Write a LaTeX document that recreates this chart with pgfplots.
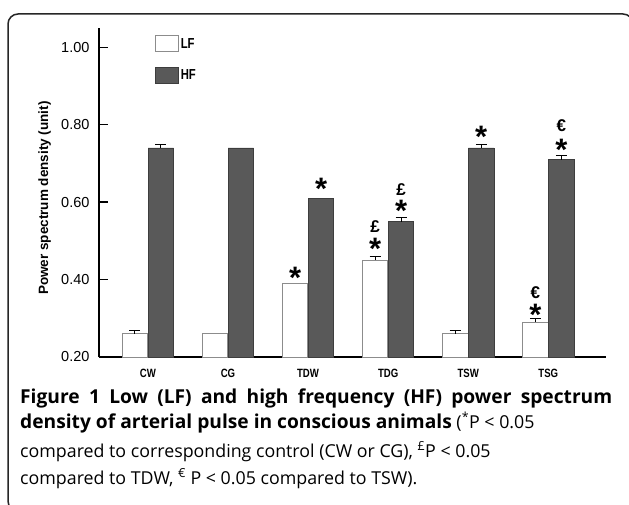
\documentclass[border=0pt]{standalone}
\usepackage{pgfplots}
\pgfplotsset{compat=1.18}
\usepackage{fontspec}
\setmainfont{Open Sans}
\newfontfamily\arial{Liberation Sans}
\definecolor{hfgray}{HTML}{595959}
\definecolor{hfedge}{HTML}{3D3D3D}
\definecolor{lfedge}{HTML}{8C8C8C}
\newcommand{\cat}[1]{\scalebox{0.8}[1]{\arial\bfseries\fontsize{12}{12}\selectfont #1}}
\newcommand{\legtxt}[1]{\scalebox{0.78}[1]{\arial\bfseries\fontsize{14.5}{14}\selectfont #1}}
\newcommand{\sig}{\raisebox{-16.5pt}[4pt][4pt]{*}}
\newcommand{\cur}[1]{\raisebox{-6pt}[5pt][5pt]{#1}}
\pgfplotsset{boxlegend/.style={legend image code/.code={\draw[##1] (0pt,-8pt) rectangle (23pt,8pt);}}}
\begin{document}
\begin{tikzpicture}[x=1pt,y=1pt]
\useasboundingbox (0,0) rectangle (629,504);
\fill[white] (0,0) rectangle (629,504);
\draw[rounded corners=10pt, line width=1.5pt, black!85] (8,-7) rectangle (633,490);
\begin{axis}[
  at={(99pt,147pt)}, anchor=south west,
  scale only axis, width=507pt, height=329pt,
  xmin=-0.61, xmax=5.72, ymin=0.2, ymax=1.05,
  axis x line*=bottom, axis y line*=left,
  axis line style={-, line width=1.4pt, black},
  xtick={0,1,2,3,4,5},
  xticklabels={\cat{CW},\cat{CG},\cat{TDW},\cat{TDG},\cat{TSW},\cat{TSG}},
  xtick style={draw=none},
  xticklabel style={yshift=-9pt},
  ytick={0.2,0.4,0.6,0.8,1.0},
  yticklabel style={/pgf/number format/fixed, /pgf/number format/fixed zerofill, /pgf/number format/precision=2, /pgf/number format/assume math mode=true, font=\arial\fontsize{14.5}{14}\selectfont, xshift=-6pt},
  tick align=inside, major tick length=9pt,
  ytick style={line width=1.4pt, black},
  ylabel={\arial\bfseries\fontsize{13.5}{14}\selectfont Power spectrum density (unit)},
  ylabel style={at={(axis description cs:-0.107,0.483)}, anchor=center, rotate=0},
  legend style={at={(axis description cs:0.110,0.978)}, anchor=north west, draw=none, fill=none,
    inner sep=0pt, row sep=15pt, cells={anchor=west}},
  clip=false,
]
\addplot[ybar, bar width=25.5pt, bar shift=-13pt, fill=white, draw=lfedge, line width=0.8pt, boxlegend]
  coordinates {(0,0.26) (1,0.26) (2,0.39) (3,0.45) (4,0.26) (5,0.29)};
\addlegendentry{\legtxt{LF}}
\addplot[ybar, bar width=25.5pt, bar shift=13pt, fill=hfgray, draw=hfedge, line width=0.8pt, boxlegend]
  coordinates {(0,0.74) (1,0.74) (2,0.61) (3,0.55) (4,0.74) (5,0.71)};
\addlegendentry{\legtxt{HF}}
% error bars (upper only)
\addplot[forget plot, draw=none, no markers,
  error bars/.cd, y dir=plus, y explicit,
  error bar style={draw=black, line width=0.8pt},
  error mark options={rotate=90, mark size=5.5pt, line width=0.8pt, draw=black}]
  coordinates {(-0.1625,0.26) +- (0,0.01) (2.8375,0.45) +- (0,0.01) (3.8375,0.26) +- (0,0.01) (4.8375,0.29) +- (0,0.01)};
\addplot[forget plot, draw=none, no markers,
  error bars/.cd, y dir=plus, y explicit,
  error bar style={draw=black, line width=0.8pt},
  error mark options={rotate=90, mark size=5.5pt, line width=0.8pt, draw=black}]
  coordinates {(0.1625,0.74) +- (0,0.01) (3.1625,0.55) +- (0,0.01) (4.1625,0.74) +- (0,0.01) (5.1625,0.71) +- (0,0.01)};
% significance marks
\tikzset{ast/.style={font=\arial\bfseries\fontsize{31}{30}\selectfont, anchor=center, inner sep=0pt},
         cur/.style={font=\arial\bfseries\fontsize{17}{17}\selectfont, anchor=center, inner sep=0pt}}
\node[ast] at (axis cs:1.8375,0.420) {\sig};
\node[ast] at (axis cs:2.1625,0.649) {\sig};
\node[ast] at (axis cs:2.8375,0.494) {\sig};
\node[cur] at (axis cs:2.8375,0.536) {\cur{£}};
\node[ast] at (axis cs:3.1625,0.593) {\sig};
\node[cur] at (axis cs:3.1625,0.633) {\cur{£}};
\node[ast] at (axis cs:4.1625,0.785) {\sig};
\node[ast] at (axis cs:4.8375,0.323) {\sig};
\node[cur] at (axis cs:4.8375,0.366) {\cur{€}};
\node[ast] at (axis cs:5.1625,0.751) {\sig};
\node[cur] at (axis cs:5.1625,0.799) {\cur{€}};
\end{axis}
% caption
\node[anchor=base west, inner sep=0pt] at (20,101) {\fontsize{19.2}{20}\selectfont\bfseries\makebox[592pt][s]{Figure 1 Low (LF) and high frequency (HF) power spectrum}};
\node[anchor=base west, inner sep=0pt] at (20,76) {\fontsize{19.2}{20}\selectfont\bfseries density of arterial pulse in conscious animals\mdseries\fontsize{17.8}{20}\selectfont{} (\textsuperscript{*}P < 0.05};
\node[anchor=base west, inner sep=0pt] at (20,47) {\fontsize{17.8}{20}\selectfont compared to corresponding control (CW or CG), \textsuperscript{£}P < 0.05};
\node[anchor=base west, inner sep=0pt] at (20,20) {\fontsize{17.8}{20}\selectfont compared to TDW, \textsuperscript{€} P < 0.05 compared to TSW).};
\end{tikzpicture}
\end{document}
